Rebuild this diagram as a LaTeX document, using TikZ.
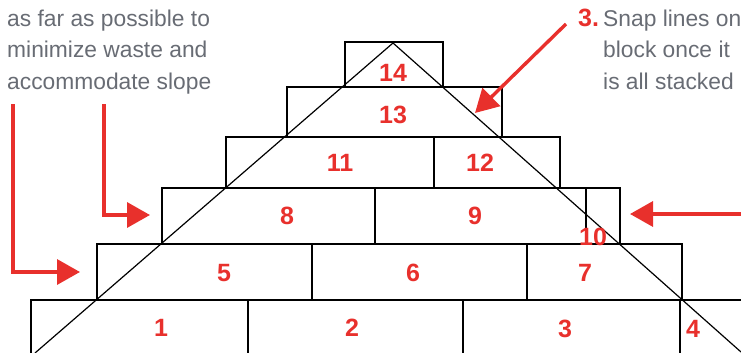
\documentclass[tikz,border=0pt]{standalone}
\usepackage{fontspec}
\setmainfont{Liberation Sans}
\usetikzlibrary{arrows.meta}
\definecolor{mark}{RGB}{232,48,44}
\definecolor{note}{RGB}{104,108,116}

\begin{document}
\begin{tikzpicture}[x=1pt,y=-1pt,
  blk/.style={draw=black,line width=1.4pt},
  cut/.style={draw=black,line width=1.2pt},
  num/.style={text=mark,font=\fontsize{25}{25}\selectfont\bfseries,inner sep=0pt},
  notetext/.style={text=note,font=\fontsize{22.8}{31}\selectfont,anchor=base west,inner sep=0pt},
  pointer/.style={draw=mark,line width=3.4pt,-{Triangle[length=23pt,width=25pt]}}]
  \useasboundingbox (0,0) rectangle (741,353);
  \clip (0,0) rectangle (741,353);
  % bottom course
  \draw[blk] (31,362) rectangle (248,300);
  \draw[blk] (248,362) rectangle (463,300);
  \draw[blk] (463,362) rectangle (680,300);
  \draw[blk] (680,362) rectangle (760,300);
  % second course
  \draw[blk] (97,300) rectangle (312,244);
  \draw[blk] (312,300) rectangle (527,244);
  \draw[blk] (527,300) rectangle (682,244);
  % third course
  \draw[blk] (162,244) rectangle (375,188);
  \draw[blk] (375,244) rectangle (586,188);
  \draw[blk] (586,244) rectangle (620,188);
  % fourth course
  \draw[blk] (226,188) rectangle (434,137);
  \draw[blk] (434,188) rectangle (560,137);
  % top courses
  \draw[blk] (287,137) rectangle (502,87);
  \draw[blk] (345,87) rectangle (443,42);
  % snap lines
  \coordinate (apex) at (393,43);
  \coordinate (foot l) at (35,353);
  \coordinate (foot r) at (741,352);
  \draw[cut] (foot l) -- (apex) -- (foot r);
  % block numbers
  \node[num] (n1) at (161,328) {1};
  \node[num] (n2) at (352,328) {2};
  \node[num] (n3) at (565,329) {3};
  \node[num] (n4) at (693,329) {4};
  \node[num] (n5) at (224,273) {5};
  \node[num] (n6) at (413,273) {6};
  \node[num] (n7) at (585,273) {7};
  \node[num] (n8) at (287,216) {8};
  \node[num] (n9) at (475,216) {9};
  \node[num] (n10) at (593,237) {10};
  \node[num] (n11) at (340,163) {11};
  \node[num] (n12) at (480,163) {12};
  \node[num] (n13) at (393,115) {13};
  \node[num] (n14) at (393,73) {14};
  % notes
  \node[notetext] (la) at (7,27) {as far as possible to};
  \node[notetext] (lb) at (7,58) {minimize waste and};
  \node[notetext] (lc) at (7,89) {accommodate slope};
  \node[num,anchor=base west] (step3) at (578,27) {3.};
  \node[notetext] (ra) at (603,27) {Snap lines on};
  \node[notetext] (rb) at (603,58) {block once it};
  \node[notetext] (rc) at (603,89) {is all stacked};
  % arrows
  \coordinate (from a) at (13,104);
  \coordinate (to a) at (80,272);
  \coordinate (from b) at (104,104);
  \coordinate (to b) at (150,215);
  \coordinate (from c) at (741,214);
  \coordinate (to c) at (630,214);
  \coordinate (from d) at (566,24);
  \coordinate (to d) at (475,113);
  \draw[pointer] (from a) |- (to a);
  \draw[pointer] (from b) |- (to b);
  \draw[pointer] (from c) -- (to c);
  \draw[pointer] (from d) -- (to d);
\end{tikzpicture}
\end{document}
